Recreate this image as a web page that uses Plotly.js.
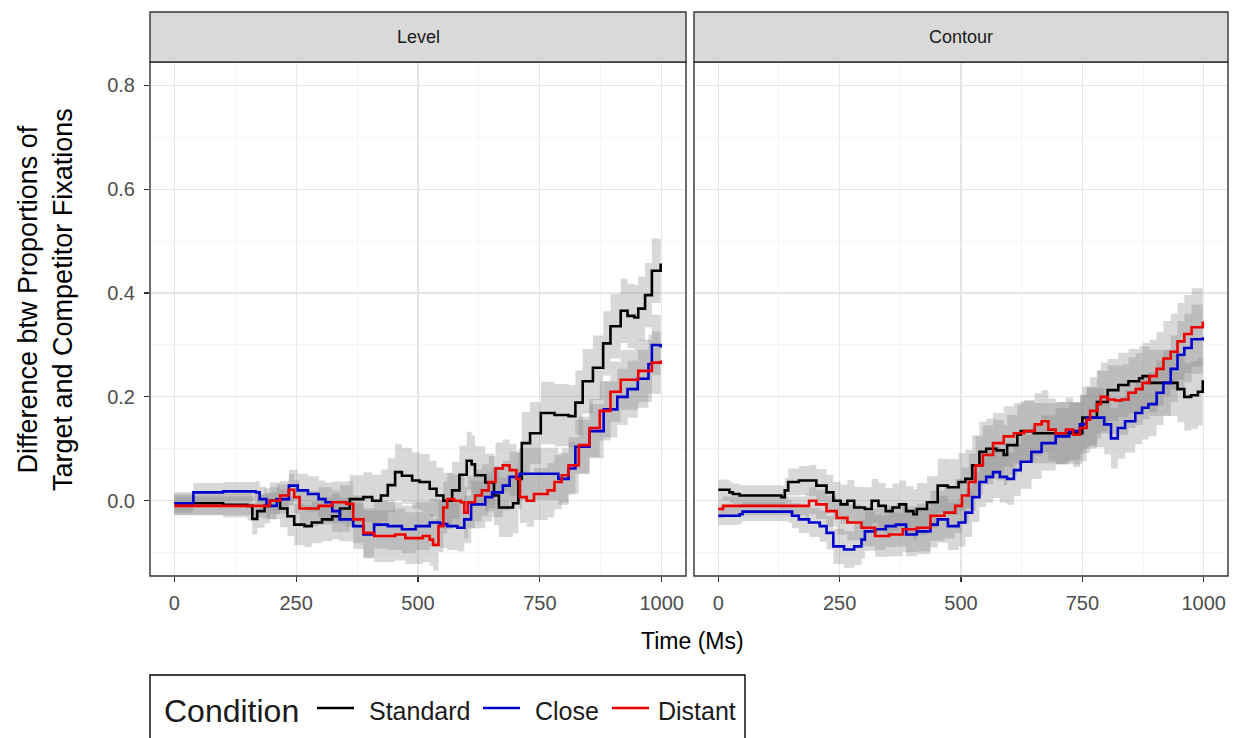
<!DOCTYPE html>
<html>
<head>
<meta charset="utf-8">
<script src="https://cdn.plot.ly/plotly-3.0.1.min.js"></script>
<style>
html,body{margin:0;padding:0;background:#fff;}
#chart{width:1235px;height:738px;}
</style>
</head>
<body>
<div id="chart"></div>
<script>
// Data: [time (ms), difference, half-width of grey band]
const panels = ['Level', 'Contour'];
const conditions = ['Standard', 'Close', 'Distant'];
const legendTitle = 'Condition';
const xTicks = [0, 250, 500, 750, 1000];
const yTicks = [0, 0.2, 0.4, 0.6, 0.8];
const yTickText = ['0.0', '0.2', '0.4', '0.6', '0.8'];

const levelStandard = [
[0,-0.005,0.022],[40,-0.005,0.022],[100,-0.008,0.024],[150,-0.01,0.028],[160,-0.035,0.03],[170,-0.02,0.032],[185,-0.01,0.034],[196,0.0,0.035],[217,-0.015,0.036],[232,-0.03,0.038],[246,-0.046,0.04],[267,-0.049,0.04],[282,-0.042,0.04],[303,-0.036,0.042],[324,-0.03,0.044],[340,-0.015,0.045],[360,0.003,0.046],[388,0.007,0.048],[406,0.0,0.05],[424,0.01,0.05],[438,0.03,0.052],[453,0.055,0.054],[467,0.048,0.054],[488,0.039,0.054],[503,0.036,0.054],[524,0.023,0.054],[538,0.01,0.054],[552,0.0,0.054],[570,0.02,0.055],[585,0.05,0.056],[600,0.077,0.056],[610,0.07,0.056],[617,0.049,0.056],[638,0.035,0.056],[656,0.01,0.057],[666,-0.013,0.057],[695,-0.005,0.058],[706,0.042,0.058],[713,0.111,0.06],[730,0.13,0.06],[752,0.169,0.06],[780,0.165,0.06],[809,0.163,0.06],[823,0.189,0.062],[838,0.23,0.062],[859,0.256,0.062],[880,0.303,0.062],[895,0.336,0.062],[916,0.366,0.062],[930,0.356,0.062],[944,0.353,0.062],[952,0.37,0.062],[966,0.396,0.062],[980,0.443,0.062],[998,0.457,0.062]
];
const levelClose = [
[0,-0.005,0.018],[30,-0.005,0.018],[39,0.016,0.018],[100,0.018,0.018],[167,0.016,0.022],[175,0.003,0.024],[189,-0.01,0.026],[210,0.003,0.028],[235,0.029,0.03],[253,0.02,0.032],[274,0.013,0.034],[296,0.003,0.036],[310,-0.003,0.038],[324,-0.02,0.04],[339,-0.036,0.042],[367,-0.049,0.044],[388,-0.065,0.046],[410,-0.046,0.046],[438,-0.049,0.046],[467,-0.055,0.046],[495,-0.049,0.046],[524,-0.042,0.046],[545,-0.045,0.046],[560,-0.049,0.046],[581,-0.052,0.046],[595,-0.036,0.046],[609,-0.007,0.046],[638,0.007,0.047],[652,0.016,0.048],[674,0.029,0.048],[688,0.046,0.049],[709,0.052,0.05],[773,0.052,0.05],[788,0.042,0.05],[809,0.062,0.05],[823,0.104,0.052],[852,0.134,0.052],[881,0.176,0.054],[909,0.2,0.054],[930,0.215,0.055],[951,0.235,0.056],[973,0.263,0.057],[980,0.3,0.058],[998,0.295,0.058]
];
const levelDistant = [
[0,-0.01,0.018],[165,-0.01,0.022],[182,-0.01,0.024],[196,0.0,0.026],[217,0.01,0.028],[235,0.021,0.03],[246,0.007,0.032],[257,-0.015,0.034],[296,-0.01,0.036],[324,-0.003,0.04],[353,-0.006,0.044],[367,-0.036,0.046],[388,-0.062,0.048],[410,-0.068,0.05],[453,-0.065,0.05],[474,-0.072,0.05],[510,-0.068,0.05],[524,-0.075,0.05],[531,-0.085,0.05],[542,-0.049,0.05],[552,-0.013,0.05],[560,0.003,0.05],[574,0.0,0.05],[588,-0.003,0.05],[595,-0.023,0.05],[602,-0.003,0.05],[617,0.01,0.05],[631,0.02,0.05],[645,0.036,0.05],[659,0.062,0.05],[674,0.068,0.05],[688,0.059,0.05],[702,0.042,0.05],[709,0.007,0.05],[723,0.0,0.05],[738,0.013,0.05],[766,0.02,0.052],[780,0.036,0.052],[795,0.049,0.053],[809,0.068,0.054],[830,0.107,0.055],[852,0.14,0.056],[873,0.173,0.057],[895,0.21,0.058],[916,0.233,0.058],[952,0.25,0.06],[980,0.266,0.06],[998,0.27,0.06]
];
const contourStandard = [
[0,0.021,0.02],[23,0.016,0.02],[30,0.013,0.02],[44,0.01,0.02],[130,0.007,0.022],[137,0.02,0.024],[144,0.036,0.026],[166,0.039,0.028],[187,0.039,0.03],[202,0.029,0.032],[223,0.016,0.034],[237,0.0,0.036],[252,-0.007,0.038],[266,0.0,0.04],[280,-0.013,0.04],[302,-0.016,0.042],[316,0.0,0.042],[330,-0.01,0.044],[345,-0.02,0.044],[359,-0.013,0.046],[373,-0.007,0.046],[387,-0.02,0.048],[402,-0.026,0.048],[409,-0.016,0.05],[430,-0.003,0.05],[452,0.029,0.052],[473,0.026,0.054],[495,0.036,0.056],[509,0.042,0.056],[523,0.068,0.058],[538,0.094,0.058],[552,0.1,0.058],[573,0.097,0.058],[588,0.088,0.058],[595,0.107,0.058],[616,0.127,0.058],[623,0.134,0.058],[650,0.13,0.058],[700,0.13,0.06],[750,0.16,0.06],[780,0.19,0.06],[802,0.213,0.06],[824,0.223,0.062],[845,0.23,0.062],[867,0.236,0.062],[874,0.24,0.064],[888,0.227,0.064],[932,0.227,0.064],[946,0.215,0.064],[960,0.2,0.065],[974,0.203,0.065],[988,0.21,0.065],[998,0.232,0.065]
];
const contourClose = [
[0,-0.029,0.018],[44,-0.026,0.018],[50,-0.021,0.018],[145,-0.021,0.022],[152,-0.029,0.024],[166,-0.036,0.026],[187,-0.042,0.028],[209,-0.049,0.03],[223,-0.062,0.032],[237,-0.088,0.034],[259,-0.094,0.035],[280,-0.088,0.036],[295,-0.075,0.037],[302,-0.059,0.038],[323,-0.055,0.04],[345,-0.049,0.04],[366,-0.046,0.042],[387,-0.065,0.042],[409,-0.059,0.044],[437,-0.046,0.044],[452,-0.036,0.045],[473,-0.049,0.046],[495,-0.042,0.046],[509,-0.023,0.047],[523,0.007,0.048],[538,0.036,0.048],[552,0.046,0.05],[566,0.055,0.05],[580,0.046,0.05],[595,0.042,0.05],[609,0.059,0.05],[623,0.075,0.052],[645,0.094,0.052],[666,0.111,0.053],[695,0.124,0.054],[723,0.134,0.055],[745,0.147,0.056],[759,0.16,0.056],[773,0.16,0.057],[795,0.147,0.058],[809,0.12,0.058],[823,0.14,0.059],[838,0.153,0.06],[859,0.169,0.06],[873,0.179,0.061],[886,0.186,0.062],[903,0.208,0.062],[917,0.227,0.063],[932,0.254,0.064],[946,0.281,0.065],[960,0.294,0.066],[975,0.311,0.067],[998,0.315,0.068]
];
const contourDistant = [
[0,-0.016,0.018],[10,-0.01,0.018],[180,-0.01,0.024],[187,0.0,0.026],[202,-0.007,0.028],[223,-0.02,0.03],[244,-0.033,0.032],[266,-0.042,0.034],[295,-0.052,0.036],[323,-0.068,0.04],[352,-0.065,0.042],[380,-0.055,0.044],[409,-0.052,0.046],[437,-0.029,0.048],[466,-0.023,0.05],[488,-0.01,0.052],[502,0.01,0.054],[516,0.036,0.055],[530,0.068,0.056],[545,0.088,0.057],[566,0.111,0.058],[588,0.124,0.058],[609,0.13,0.058],[630,0.134,0.06],[652,0.147,0.06],[666,0.153,0.06],[680,0.137,0.06],[695,0.13,0.06],[716,0.137,0.062],[731,0.127,0.062],[745,0.14,0.064],[759,0.156,0.064],[766,0.173,0.065],[781,0.186,0.066],[788,0.2,0.066],[802,0.195,0.066],[817,0.193,0.067],[831,0.195,0.068],[845,0.208,0.068],[860,0.215,0.069],[874,0.227,0.07],[888,0.24,0.07],[903,0.254,0.071],[917,0.274,0.072],[932,0.287,0.073],[946,0.307,0.074],[960,0.321,0.075],[975,0.334,0.075],[998,0.345,0.075]
];

// ---------- drawing ----------
const W = 1235, H = 738;
const px = v => v / W;
const py = v => 1 - v / H;
const FONT = 'Liberation Sans, Arial, Helvetica, sans-serif';
const colors = {Standard: '#000000', Close: '#0000cd', Distant: '#ee0000'};

const L = {x0: 150, x1: 686};
const R = {x0: 694, x1: 1228};
const stripTop = 12, panelTop = 62, panelBottom = 576;

const panelData = [
  {Standard: levelStandard, Close: levelClose, Distant: levelDistant},
  {Standard: contourStandard, Close: contourClose, Distant: contourDistant}
];

const traces = [];
panelData.forEach((pd, i) => {
  const xa = i === 0 ? 'x' : 'x2';
  const ya = i === 0 ? 'y' : 'y2';
  conditions.forEach(c => {
    const d = pd[c];
    const t = d.map(r => r[0]);
    traces.push({x: t, y: d.map(r => r[1] - r[2]), xaxis: xa, yaxis: ya, type: 'scatter', mode: 'lines',
      line: {width: 0, shape: 'hv'}, showlegend: false, hoverinfo: 'skip'});
    traces.push({x: t, y: d.map(r => r[1] + r[2]), xaxis: xa, yaxis: ya, type: 'scatter', mode: 'lines',
      line: {width: 0, shape: 'hv'}, fill: 'tonexty', fillcolor: 'rgba(127,127,127,0.3)',
      showlegend: false, hoverinfo: 'skip'});
  });
});
panelData.forEach((pd, i) => {
  const xa = i === 0 ? 'x' : 'x2';
  const ya = i === 0 ? 'y' : 'y2';
  conditions.forEach(c => {
    const d = pd[c];
    traces.push({x: d.map(r => r[0]), y: d.map(r => r[1]), xaxis: xa, yaxis: ya, type: 'scatter', mode: 'lines',
      name: c, showlegend: false,
      line: {color: colors[c], width: 2.6, shape: 'hv'}});
  });
});

function xaxisDef(p, anchor) {
  return {
    domain: [px(p.x0), px(p.x1)], anchor: anchor, range: [-50, 1050],
    tickmode: 'array', tickvals: xTicks, ticktext: xTicks.map(String),
    ticks: 'outside', ticklen: 5, tickwidth: 1.1, tickcolor: '#333333', ticklabelstandoff: 4,
    tickfont: {family: FONT, size: 20, color: '#4d4d4d'},
    showgrid: true, gridcolor: '#e6e6e6', gridwidth: 1.1, zeroline: false, showline: false,
    minor: {tickmode: 'array', tickvals: [125, 375, 625, 875], showgrid: true, gridcolor: '#f2f2f2', gridwidth: 0.7, ticks: ''},
    automargin: false, fixedrange: true
  };
}
function yaxisDef(anchor, show) {
  return {
    domain: [py(panelBottom), py(panelTop)], anchor: anchor, range: [-0.145, 0.845],
    tickmode: 'array', tickvals: yTicks, ticktext: yTickText,
    ticks: show ? 'outside' : '', ticklen: 5, tickwidth: 1.1, tickcolor: '#333333', ticklabelstandoff: 5,
    showticklabels: show, tickfont: {family: FONT, size: 20, color: '#4d4d4d'},
    showgrid: true, gridcolor: '#e6e6e6', gridwidth: 1.1, zeroline: false, showline: false,
    minor: {tickmode: 'array', tickvals: [-0.1, 0.1, 0.3, 0.5, 0.7], showgrid: true, gridcolor: '#f2f2f2', gridwidth: 0.7, ticks: ''},
    automargin: false, fixedrange: true
  };
}

const shapes = [];
[L, R].forEach(p => {
  shapes.push({type: 'rect', xref: 'paper', yref: 'paper', x0: px(p.x0), x1: px(p.x1), y0: py(panelBottom), y1: py(panelTop),
    line: {color: '#333333', width: 1.4}, fillcolor: 'rgba(0,0,0,0)', layer: 'above'});
  shapes.push({type: 'rect', xref: 'paper', yref: 'paper', x0: px(p.x0), x1: px(p.x1), y0: py(panelTop), y1: py(stripTop),
    line: {color: '#333333', width: 1.4}, fillcolor: '#d9d9d9', layer: 'above'});
});

const annotations = [
  {text: panels[0], xref: 'paper', yref: 'paper', x: px((L.x0 + L.x1) / 2), y: py((stripTop + panelTop) / 2),
    showarrow: false, xanchor: 'center', yanchor: 'middle', font: {family: FONT, size: 18, color: '#1a1a1a'}},
  {text: panels[1], xref: 'paper', yref: 'paper', x: px((R.x0 + R.x1) / 2), y: py((stripTop + panelTop) / 2),
    showarrow: false, xanchor: 'center', yanchor: 'middle', font: {family: FONT, size: 18, color: '#1a1a1a'}},
  {text: 'Time (Ms)', xref: 'paper', yref: 'paper', x: px(692), y: py(641),
    showarrow: false, xanchor: 'center', yanchor: 'middle', font: {family: FONT, size: 23, color: '#000000'}},
  {text: 'Difference btw Proportions of<br>Target and Competitor Fixations', xref: 'paper', yref: 'paper',
    x: px(45), y: py(300), textangle: -90, showarrow: false, xanchor: 'center', yanchor: 'middle',
    font: {family: FONT, size: 27, color: '#000000'}}
];

// legend (drawn as box, key lines and text)
const legendY = 711;
shapes.push({type: 'rect', xref: 'paper', yref: 'paper', x0: px(150), x1: px(745), y0: py(745), y1: py(675),
  line: {color: '#000000', width: 1.4}, fillcolor: '#ffffff', layer: 'above'});
annotations.push({text: legendTitle, xref: 'paper', yref: 'paper', x: px(162), y: py(legendY), showarrow: false,
  xanchor: 'left', yanchor: 'middle', font: {family: FONT, size: 32, color: '#1a1a1a'}});
const keyX = [317, 483, 612];
const labelX = [367, 533, 656];
conditions.forEach((c, i) => {
  shapes.push({type: 'line', xref: 'paper', yref: 'paper', x0: px(keyX[i]), x1: px(keyX[i] + 37),
    y0: py(legendY - 3), y1: py(legendY - 3), line: {color: colors[c], width: 2.6}, layer: 'above'});
  annotations.push({text: c, xref: 'paper', yref: 'paper', x: px(labelX[i]), y: py(legendY), showarrow: false,
    xanchor: 'left', yanchor: 'middle', font: {family: FONT, size: 25, color: '#1a1a1a'}});
});

const layout = {
  width: W, height: H, margin: {l: 0, r: 0, t: 0, b: 0},
  paper_bgcolor: '#ffffff', plot_bgcolor: '#ffffff',
  xaxis: xaxisDef(L, 'y'), xaxis2: xaxisDef(R, 'y2'),
  yaxis: yaxisDef('x', true), yaxis2: Object.assign(yaxisDef('x2', false), {matches: 'y'}),
  shapes: shapes, annotations: annotations,
  showlegend: false,
  font: {family: FONT}
};

Plotly.newPlot('chart', traces, layout, {displayModeBar: false, staticPlot: true});
</script>
</body>
</html>
